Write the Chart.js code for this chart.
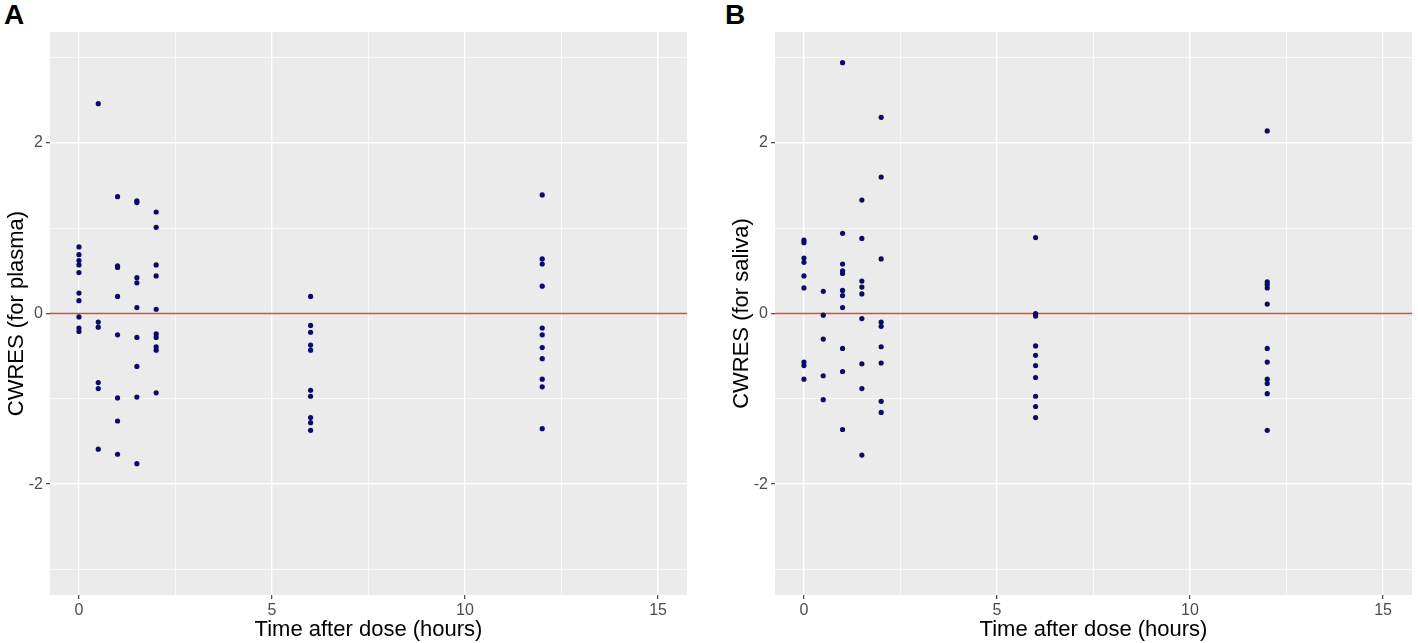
<!DOCTYPE html>
<html>
<head>
<meta charset="utf-8">
<script src="https://cdn.jsdelivr.net/npm/chart.js@4.4.1/dist/chart.umd.min.js"></script>
<style>
  html, body { margin: 0; padding: 0; background: #fff; }
  body { width: 1418px; height: 643px; position: relative; overflow: hidden; font-family: "Liberation Sans", Arial, sans-serif; }
  .panel { position: absolute; top: 0; width: 700px; height: 643px; }
  .lbl { position: absolute; top: -1px; font-weight: bold; font-size: 28px; line-height: 32px; color: #000; font-family: "Liberation Sans", Arial, sans-serif; }
</style>
</head>
<body>
<div class="lbl" style="left:4px;">A</div>
<div class="lbl" style="left:725px;">B</div>
<div class="panel" style="left:0px;"><canvas id="cA"></canvas></div>
<div class="panel" style="left:725px;"><canvas id="cB"></canvas></div>
<script>
// ---- data ----
const plasmaTime = [
  0,0,0,0,0,0,0,0,0,0,
  0.5,0.5,0.5,0.5,0.5,0.5,
  1,1,1,1,1,1,1,1,
  1.5,1.5,1.5,1.5,1.5,1.5,1.5,1.5,1.5,
  2,2,2,2,2,2,2,2,2,2,
  6,6,6,6,6,6,6,6,6,6,
  12,12,12,12,12,12,12,12,12,12,12
];
const plasmaCWRES = [
  0.78,0.69,0.62,0.57,0.48,0.24,0.15,-0.04,-0.17,-0.21,
  2.46,-0.10,-0.16,-0.81,-0.88,-1.59,
  1.37,0.56,0.54,0.20,-0.25,-0.99,-1.26,-1.65,
  1.32,1.30,0.42,0.36,0.07,-0.28,-0.62,-0.98,-1.76,
  1.19,1.01,0.57,0.44,0.05,-0.24,-0.28,-0.39,-0.43,-0.93,
  0.20,-0.14,-0.22,-0.37,-0.43,-0.90,-0.97,-1.22,-1.28,-1.37,
  1.39,0.64,0.58,0.32,-0.17,-0.25,-0.40,-0.53,-0.77,-0.86,-1.35
];
const salivaTime = [
  0,0,0,0,0,0,0,0,0,
  0.5,0.5,0.5,0.5,0.5,
  1,1,1,1,1,1,1,1,1,1,1,
  1.5,1.5,1.5,1.5,1.5,1.5,1.5,1.5,1.5,
  2,2,2,2,2,2,2,2,2,
  6,6,6,6,6,6,6,6,6,6,6,
  12,12,12,12,12,12,12,12,12,12,12
];
const salivaCWRES = [
  0.86,0.83,0.65,0.60,0.44,0.30,-0.57,-0.61,-0.77,
  0.26,-0.02,-0.30,-0.73,-1.01,
  2.94,0.94,0.58,0.50,0.47,0.27,0.21,0.07,-0.41,-0.68,-1.36,
  1.33,0.88,0.38,0.31,0.23,-0.06,-0.59,-0.88,-1.66,
  2.30,1.60,0.64,-0.10,-0.15,-0.39,-0.58,-1.03,-1.16,
  0.89,0.00,-0.01,-0.03,-0.38,-0.49,-0.61,-0.75,-0.97,-1.09,-1.22,
  2.14,0.37,0.34,0.30,0.11,-0.41,-0.57,-0.77,-0.82,-0.94,-1.37
];
const xMajorTicks = [0, 5, 10, 15];
const xMinorTicks = [2.5, 7.5, 12.5];
const yMajorTicks = [-2, 0, 2];
const yMinorTicks = [-3, -1, 1, 3];
const xRange = [-0.75, 15.75];
const yRange = [-3.3, 3.3];
const refLineY = 0;
const xTitle = 'Time after dose (hours)';
const yTitleA = 'CWRES (for plasma)';
const yTitleB = 'CWRES (for saliva)';

const panelBg = {
  id: 'panelBg',
  beforeDraw(chart) {
    const {ctx, chartArea: a} = chart;
    ctx.save();
    ctx.fillStyle = '#EBEBEB';
    ctx.fillRect(a.left, a.top, a.right - a.left, a.bottom - a.top);
    ctx.restore();
  }
};

function makeChart(id, times, vals, yTitle) {
  const pts = times.map((t, i) => ({x: t, y: vals[i]}));
  const allX = xMajorTicks.concat(xMinorTicks).sort((a,b)=>a-b);
  const allY = yMajorTicks.concat(yMinorTicks).sort((a,b)=>a-b);
  const isMajorX = v => xMajorTicks.includes(v);
  const isMajorY = v => yMajorTicks.includes(v);
  return new Chart(document.getElementById(id), {
    type: 'scatter',
    data: {
      datasets: [
        {
          type: 'line',
          data: [{x: xRange[0], y: refLineY}, {x: xRange[1], y: refLineY}],
          borderColor: '#D9483B',
          borderWidth: 1.6,
          pointRadius: 0,
          order: 2
        },
        {
          data: pts,
          backgroundColor: '#0B0B6B',
          borderColor: '#0B0B6B',
          borderWidth: 0,
          pointRadius: 2.6,
          order: 1
        }
      ]
    },
    options: {
      responsive: false,
      animation: false,
      devicePixelRatio: 1,
      layout: { padding: { top: 32, right: 13, left: 0, bottom: 0 } },
      plugins: { legend: { display: false }, tooltip: { enabled: false } },
      scales: {
        x: {
          type: 'linear',
          min: xRange[0], max: xRange[1],
          afterBuildTicks: s => { s.ticks = allX.map(v => ({value: v})); },
          afterFit: s => { s.height = 48; },
          border: { display: false },
          grid: {
            color: '#FFFFFF',
            lineWidth: c => (c.tick && isMajorX(c.tick.value)) ? 1.4 : 0.7,
            drawTicks: true,
            tickLength: 4,
            tickColor: c => (c.tick && isMajorX(c.tick.value)) ? '#333333' : 'rgba(0,0,0,0)',
            tickWidth: 1.1
          },
          ticks: {
            autoSkip: false,
            maxRotation: 0,
            padding: 2,
            color: '#4D4D4D',
            font: { family: 'Liberation Sans', size: 16 },
            callback: v => isMajorX(v) ? String(v) : ''
          },
          title: {
            display: true, text: xTitle, color: '#000',
            font: { family: 'Liberation Sans', size: 22 },
            padding: { top: 0, bottom: 0 }
          }
        },
        y: {
          type: 'linear',
          min: yRange[0], max: yRange[1],
          afterBuildTicks: s => { s.ticks = allY.map(v => ({value: v})); },
          afterFit: s => { s.width = 50; },
          border: { display: false },
          grid: {
            color: '#FFFFFF',
            lineWidth: c => (c.tick && isMajorY(c.tick.value)) ? 1.4 : 0.7,
            drawTicks: true,
            tickLength: 4,
            tickColor: c => (c.tick && isMajorY(c.tick.value)) ? '#333333' : 'rgba(0,0,0,0)',
            tickWidth: 1.1
          },
          ticks: {
            autoSkip: false,
            padding: 3,
            color: '#4D4D4D',
            font: { family: 'Liberation Sans', size: 16 },
            callback: v => isMajorY(v) ? String(v) : ''
          },
          title: {
            display: true, text: yTitle, color: '#000',
            font: { family: 'Liberation Sans', size: 22 },
            padding: { top: 4, bottom: 0 }
          }
        }
      }
    },
    plugins: [panelBg]
  });
}

function sizeCanvas(id) {
  const c = document.getElementById(id);
  c.width = 700; c.height = 643;
  c.style.width = '700px'; c.style.height = '643px';
}
sizeCanvas('cA'); sizeCanvas('cB');
makeChart('cA', plasmaTime, plasmaCWRES, yTitleA);
makeChart('cB', salivaTime, salivaCWRES, yTitleB);
</script>
</body>
</html>
